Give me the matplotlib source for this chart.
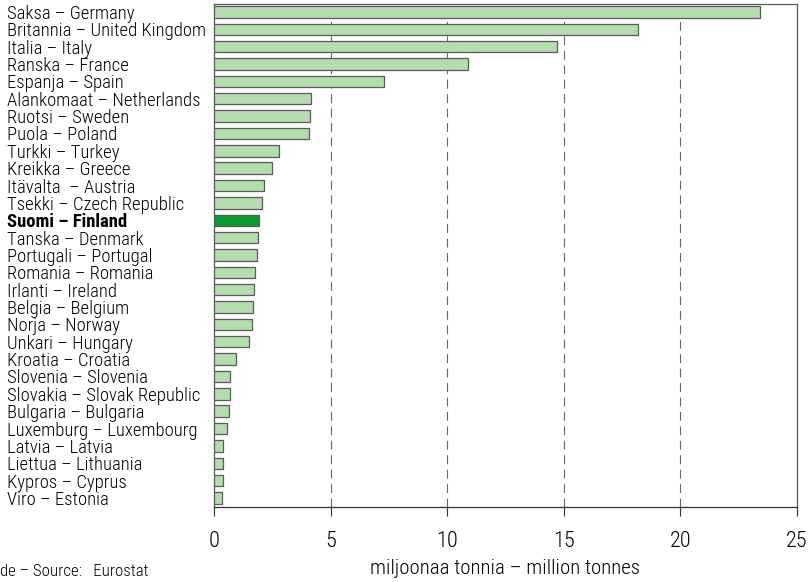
import matplotlib
matplotlib.use("Agg")
import matplotlib.pyplot as plt
from matplotlib import font_manager as fm

countries = [
    "Saksa – Germany", "Britannia – United Kingdom", "Italia – Italy",
    "Ranska – France", "Espanja – Spain", "Alankomaat – Netherlands",
    "Ruotsi – Sweden", "Puola – Poland", "Turkki – Turkey",
    "Kreikka – Greece", "Itävalta  – Austria", "Tsekki – Czech Republic",
    "Suomi – Finland", "Tanska – Denmark", "Portugali – Portugal",
    "Romania – Romania", "Irlanti – Ireland", "Belgia – Belgium",
    "Norja – Norway", "Unkari – Hungary", "Kroatia – Croatia",
    "Slovenia – Slovenia", "Slovakia – Slovak Republic", "Bulgaria – Bulgaria",
    "Luxemburg – Luxembourg", "Latvia – Latvia", "Liettua – Lithuania",
    "Kypros – Cyprus", "Viro – Estonia",
]
values = [
    23.4, 18.2, 14.7, 10.9, 7.3, 4.15, 4.1, 4.07, 2.78,
    2.5, 2.15, 2.06, 1.91, 1.9, 1.85, 1.75, 1.7, 1.67,
    1.62, 1.5, 0.93, 0.7, 0.67, 0.66, 0.55, 0.4, 0.39,
    0.37, 0.36,
]
highlight = "Suomi – Finland"
xticks = [0, 5, 10, 15, 20, 25]
xlabel = "miljoonaa tonnia – million tonnes"
source = "de – Source:   Eurostat"

avail = {f.name for f in fm.fontManager.ttflist}
fams = [f for f in ["Roboto Condensed", "Liberation Sans Narrow", "DejaVu Sans Condensed", "DejaVu Sans"] if f in avail]
plt.rcParams["font.family"] = fams

W, H = 808, 582
fig = plt.figure(figsize=(W / 100, H / 100), dpi=100)
ax = fig.add_axes([214 / W, 1 - 507 / H, (797 - 214) / W, (507 - 4) / H])

light = "#b5dcae"
dark = "#0a9a2e"
ypos = list(range(len(countries)))
colors = [dark if c == highlight else light for c in countries]
ax.barh(ypos, values, height=0.66, color=colors, edgecolor="#5a5a5a", linewidth=0.9, zorder=3)

ax.set_xlim(0, 25)
ax.set_ylim(len(countries) - 1 + 0.52, -0.46)
ax.set_xticks(xticks)
ax.set_xticklabels([str(t) for t in xticks], fontsize=16, fontweight="light")
ax.tick_params(axis="x", direction="out", length=6.5, width=0.8, color="#333333", pad=11)

ax.set_yticks(ypos)
ax.set_yticklabels(countries, fontsize=13.4, fontweight="light")
ax.tick_params(axis="y", length=0, pad=149)
for lab in ax.get_yticklabels():
    lab.set_horizontalalignment("left")
    if lab.get_text() == highlight:
        lab.set_fontweight("bold")

for t in xticks[1:-1]:
    ax.axvline(t, color="#666666", linewidth=0.8, linestyle=(0, (8, 5)), zorder=1)

for s in ax.spines.values():
    s.set_color("#555555")
    s.set_linewidth(0.9)
ax.spines["bottom"].set_color("#333333")

ax.set_xlabel(xlabel, fontsize=15, fontweight="light", labelpad=5)
fig.text(0 / W, 1 - 571 / H, source, fontsize=12.2, fontweight="light", ha="left", va="center")

fig.savefig("out.png", dpi=100)
